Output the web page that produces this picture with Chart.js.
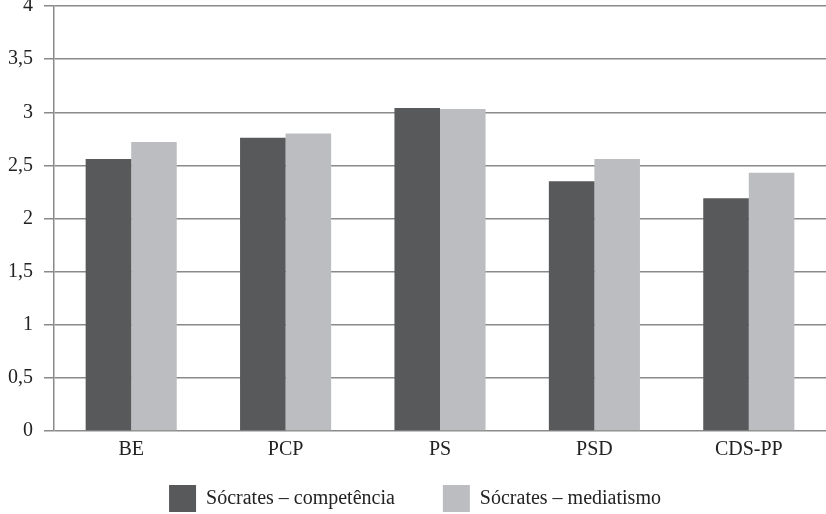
<!DOCTYPE html>
<html>
<head>
<meta charset="utf-8">
<script src="https://cdn.jsdelivr.net/npm/chart.js@4"></script>
<style>
html,body{margin:0;padding:0;background:#fff;}
#wrap{width:826px;height:514px;}
</style>
</head>
<body>
<div id="wrap"><canvas id="c" width="826" height="514"></canvas></div>
<script>
const categories = ["BE", "PCP", "PS", "PSD", "CDS-PP"];
const seriesNames = ["Sócrates – competência", "Sócrates – mediatismo"];
const competencia = [2.56, 2.76, 3.04, 2.35, 2.19];
const mediatismo = [2.72, 2.80, 3.03, 2.56, 2.43];
const yTicks = [0, 0.5, 1, 1.5, 2, 2.5, 3, 3.5, 4];

const FONT = "'Liberation Serif', 'DejaVu Serif', serif";
const LEGEND_BOX_TOP = 485;
const LEGEND_PAD = 48;

const legendShift = {
  id: 'legendShift',
  afterLayout(chart) {
    const lg = chart.legend;
    if (!lg) return;
    const h = lg.height;
    lg.top = LEGEND_BOX_TOP - LEGEND_PAD;
    lg.bottom = lg.top + h;
  }
};

new Chart(document.getElementById('c'), {
  type: 'bar',
  data: {
    labels: categories,
    datasets: [
      { label: seriesNames[0], data: competencia, backgroundColor: '#58595b', borderWidth: 0 },
      { label: seriesNames[1], data: mediatismo, backgroundColor: '#bcbdc0', borderWidth: 0 }
    ]
  },
  plugins: [legendShift],
  options: {
    responsive: false,
    animation: false,
    devicePixelRatio: 1,
    layout: { padding: { top: 6, right: -4, left: 0, bottom: -37 } },
    datasets: { bar: { categoryPercentage: 0.59, barPercentage: 1.0 } },
    plugins: {
      tooltip: { enabled: false },
      legend: {
        position: 'bottom',
        labels: {
          font: { family: FONT, size: 20 },
          color: '#222',
          boxWidth: 27,
          boxHeight: 27,
          padding: LEGEND_PAD,
          useBorderRadius: false
        }
      }
    },
    scales: {
      x: {
        grid: { display: false, drawTicks: false },
        border: { display: false },
        ticks: { font: { family: FONT, size: 20 }, color: '#222', padding: 7 },
        afterFit: (s) => { s.height = 35; }
      },
      y: {
        min: 0, max: 4,
        afterBuildTicks: (s) => { s.ticks = yTicks.map(v => ({ value: v })); },
        grid: { color: '#8a8a8a', lineWidth: 1.5, tickLength: 10, drawTicks: true },
        border: { display: true, color: '#8a8a8a', width: 1.5 },
        ticks: {
          font: { family: FONT, size: 20 },
          color: '#222',
          padding: 11,
          callback: (v) => String(v).replace('.', ',')
        },
        afterFit: (s) => { s.width = 54; s.paddingTop = 0; s.paddingBottom = 0; }
      }
    }
  }
});
</script>
</body>
</html>
